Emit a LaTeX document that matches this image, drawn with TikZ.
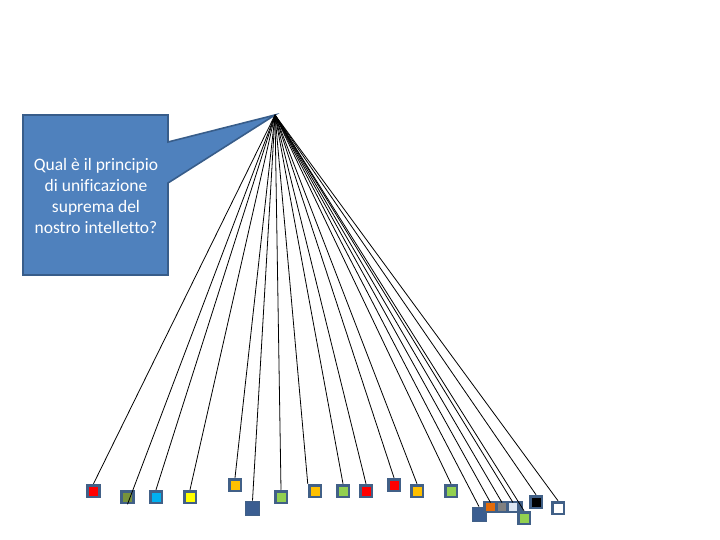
\documentclass[tikz,border=0pt]{standalone}
\usepackage{fontspec}
\setmainfont{Carlito}[Ligatures=NoCommon]
\definecolor{calfill}{RGB}{79,129,189}
\definecolor{caldraw}{RGB}{56,93,138}
\definecolor{sqb}{RGB}{65,96,135}
\definecolor{bigb}{RGB}{59,94,145}
\definecolor{cred}{RGB}{255,0,0}
\definecolor{colive}{RGB}{119,147,60}
\definecolor{ccyan}{RGB}{0,176,240}
\definecolor{cyel}{RGB}{255,255,0}
\definecolor{corg}{RGB}{255,192,0}
\definecolor{cgrn}{RGB}{146,208,80}
\definecolor{corg2}{RGB}{228,108,10}
\definecolor{cgray}{RGB}{128,128,128}
\definecolor{clav}{RGB}{220,230,242}
\tikzset{
  sq/.style={draw=sqb, line width=2.75pt, minimum size=11.75pt, inner sep=0pt},
  bigsq/.style={fill=bigb, draw=sqb, line width=0.8pt, minimum size=14pt, inner sep=0pt},
  insq/.style={minimum size=8.5pt, inner sep=0pt},
  ray/.style={black, line width=0.8pt}
}
\begin{document}
\begin{tikzpicture}[x=1pt,y=-1pt]
\useasboundingbox (0,0) rectangle (720,540);
% callout
\coordinate (apex) at (275,115);
\draw[fill=calfill, draw=caldraw, line width=1.6pt, line join=miter]
  (23,115) -- (168,115) -- (168,142) -- (apex) -- (168,183) -- (168,275) -- (23,275) -- cycle;
\node[text=white, align=center, font=\fontsize{17.5}{21}\selectfont] (q) at (96,196)
  {Qual è il principio\\di unificazione\\suprema del\\nostro intelletto?};
% squares
\node[sq, fill=cred]   (r1) at (93.5,491) {};
\node[sq, fill=colive] (ol) at (127.5,497) {};
\node[sq, fill=ccyan]  (bl) at (156,497) {};
\node[sq, fill=cyel]   (ye) at (190,497) {};
\node[sq, fill=corg]   (o1) at (235,485) {};
\node[bigsq]           (bb1) at (252.5,508) {};
\node[sq, fill=cgrn]   (g1) at (281,497) {};
\node[sq, fill=corg]   (o2) at (315,491) {};
\node[sq, fill=cgrn]   (g2) at (343,491) {};
\node[sq, fill=cred]   (r2) at (366,491) {};
\node[sq, fill=cred]   (r3) at (394,485) {};
\node[sq, fill=corg]   (o3) at (417,491) {};
\node[sq, fill=cgrn]   (g3) at (451,491) {};
\node[bigsq]           (bb2) at (479,514) {};
\node[fill=sqb, minimum width=40pt, minimum height=12pt, inner sep=0pt] (bar) at (503,507) {};
\node[insq, fill=corg2] (og) at (490.5,507) {};
\node[insq, fill=cgray] (gr) at (502,507) {};
\node[insq, fill=clav]  (lv) at (513,507) {};
\node[sq, fill=cgrn]   (gs) at (524,518) {};
\node[sq, fill=black]  (bk) at (536,502) {};
\node[sq, fill=white]  (wh) at (558,508) {};
% rays
\foreach \t in {r1.north, ol.south, bl.north, ye.north, o1.north, bb1.north, g1.north,
  o2.north west, g2.north, r2.north, r3.north, o3.north, g3.north, bb2.north,
  og.north, gr.north, lv.north, gs.north, bk.north, wh.north}
  \draw[ray] (apex) -- (\t);
\end{tikzpicture}
\end{document}
